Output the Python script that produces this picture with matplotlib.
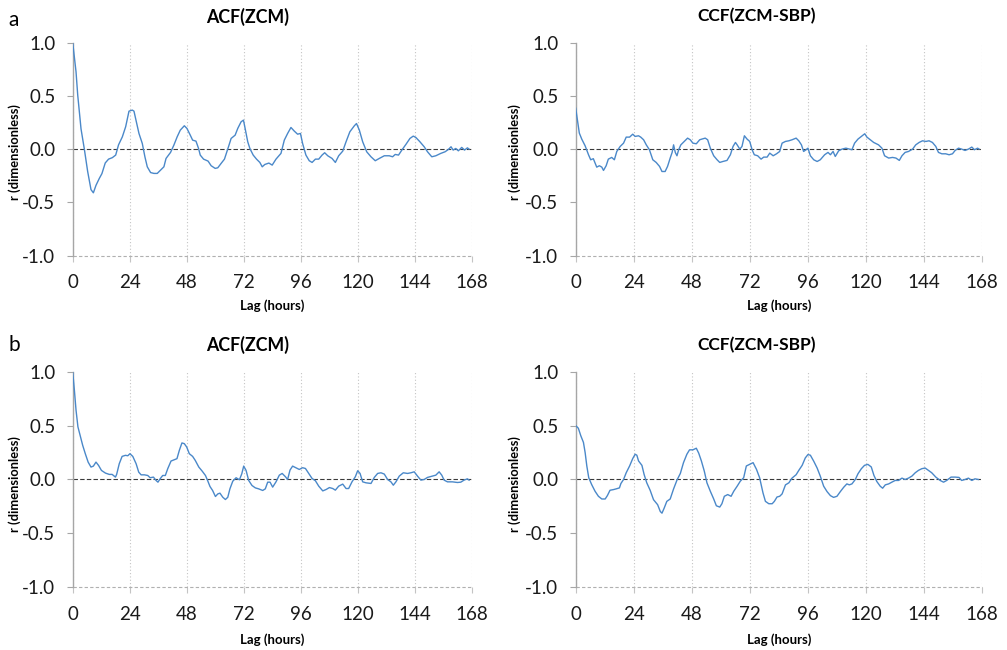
import numpy as np
import matplotlib
matplotlib.use('Agg')
import matplotlib.pyplot as plt

plt.rcParams['font.family'] = ['Lato', 'DejaVu Sans']

# values (lag in hours, r)
acf_a_lag = [0, 1.4, 2.1, 3.5, 4.9, 6.3, 7.7, 8.7, 9.8, 11.2, 12.3, 13.7, 15.1, 16.7, 18.1, 19.3, 20.9,
             22.3, 23.7, 25.1, 25.8, 26.8, 27.9, 29.3, 30.4, 31.4, 32.8, 34.2, 35.6, 37.0, 38.4, 39.3,
             41.2, 42.6, 44.0, 45.3, 47.0, 48.1, 49.5, 50.5, 51.9, 53.0, 53.7, 55.1, 57.0, 58.3, 60.0,
             61.1, 62.5, 63.9, 65.6, 66.7, 68.4, 69.5, 70.9, 71.9, 72.6, 73.7, 74.6, 76.0, 77.4, 78.8,
             79.8, 80.9, 82.6, 84.0, 85.6, 87.7, 89.1, 90.5, 91.9, 93.3, 94.7, 95.9, 96.8, 98.2, 99.6,
             100.8, 102.2, 103.6, 105.0, 106.1, 107.4, 109.2, 110.6, 112.0, 113.7, 115.1, 116.7, 118.6,
             119.5, 120.7, 122.1, 123.8, 125.6, 127.4, 129.1, 131.2, 133.3, 134.7, 135.8, 137.2, 138.6,
             140.3, 142.0, 143.4, 144.5, 146.2, 148.0, 149.4, 151.2, 152.9, 155.0, 156.8, 158.2, 159.3,
             160.2, 161.3, 162.4, 163.8, 165.0, 166.2, 166.9]
acf_a_r = [1.0, 0.725, 0.51, 0.19, 0.0, -0.21, -0.38, -0.41, -0.34, -0.275, -0.23, -0.13, -0.094, -0.08,
           -0.056, 0.04, 0.115, 0.21, 0.356, 0.366, 0.356, 0.256, 0.147, 0.053, -0.072, -0.166, -0.22,
           -0.228, -0.228, -0.197, -0.166, -0.0875, -0.031, 0.0375, 0.116, 0.178, 0.219, 0.194, 0.131,
           0.084, 0.075, 0.006, -0.056, -0.094, -0.1125, -0.156, -0.181, -0.175, -0.134, -0.094, 0.022,
           0.1, 0.131, 0.194, 0.256, 0.272, 0.194, 0.069, 0.006, -0.056, -0.094, -0.125, -0.166, -0.144,
           -0.131, -0.15, -0.094, -0.04, 0.084, 0.147, 0.203, 0.169, 0.14, 0.147, 0.053, -0.056, -0.109,
           -0.125, -0.094, -0.094, -0.056, -0.034, -0.0625, -0.0875, -0.125, -0.0625, -0.019, 0.069,
           0.1625, 0.219, 0.24, 0.178, 0.069, -0.025, -0.072, -0.109, -0.0875, -0.0625, -0.0625, -0.072,
           -0.05, -0.056, -0.009, 0.044, 0.1, 0.122, 0.109, 0.069, 0.022, -0.025, -0.072, -0.0625, -0.04,
           -0.025, -0.003, 0.022, -0.009, 0.006, -0.016, 0.016, -0.009, 0.012, 0.0]

ccf_a_lag = [0, 0.7, 1.5, 2.5, 3.9, 5.3, 6.2, 7.3, 8.7, 9.8, 10.8, 11.5, 12.6, 13.5, 14.9, 16.0, 17.0,
             18.4, 19.8, 20.9, 22.3, 23.6, 24.6, 26.0, 26.9, 28.1, 29.2, 30.5, 31.9, 33.3, 34.7, 35.7,
             37.0, 38.0, 39.1, 39.9, 40.5, 41.2, 41.9, 42.6, 43.5, 44.9, 46.3, 47.4, 48.5, 49.9, 51.3,
             52.2, 53.6, 54.6, 55.7, 57.1, 58.5, 59.6, 60.9, 62.6, 64.0, 65.1, 66.1, 66.8, 67.9, 68.8,
             69.8, 70.9, 72.0, 73.0, 73.9, 75.3, 76.7, 77.8, 79.2, 80.3, 81.7, 83.1, 84.4, 85.4, 86.8,
             88.2, 89.5, 91.2, 92.3, 93.4, 94.3, 95.3, 96.1, 97.1, 98.5, 99.9, 101.2, 103.0, 104.4,
             105.4, 106.5, 107.4, 108.8, 110.2, 111.8, 113.2, 114.3, 115.4, 116.8, 118.2, 119.6, 120.5,
             121.9, 123.3, 125.3, 126.7, 127.8, 129.5, 131.1, 132.5, 133.9, 135.0, 136.3, 137.7, 139.4,
             140.7, 142.1, 143.5, 144.9, 146.2, 147.6, 149.0, 150.1, 151.5, 153.1, 154.5, 155.9, 157.0,
             158.4, 159.7, 161.1, 162.5, 163.9, 165.0, 166.3, 166.9]
ccf_a_r = [0.384, 0.275, 0.15, 0.094, 0.031, -0.053, -0.1, -0.09, -0.169, -0.156, -0.169, -0.2, -0.156,
           -0.094, -0.078, -0.1, -0.022, 0.025, 0.056, 0.1125, 0.1125, 0.14, 0.119, 0.125, 0.1125, 0.0875,
           0.04, -0.006, -0.1, -0.125, -0.1625, -0.21, -0.21, -0.1625, -0.084, -0.031, 0.04, -0.031,
           -0.0625, -0.006, 0.04, 0.072, 0.103, 0.0875, 0.056, 0.05, 0.0875, 0.094, 0.103, 0.0875, 0.009,
           -0.0625, -0.1, -0.125, -0.116, -0.106, -0.053, 0.025, 0.0625, 0.04, 0.0, 0.025, 0.125, 0.094,
           0.072, -0.006, -0.053, -0.0625, -0.094, -0.075, -0.075, -0.0375, -0.0625, -0.044, -0.022,
           0.056, 0.072, 0.078, 0.0875, 0.103, 0.078, 0.04, -0.022, -0.006, 0.009, -0.0625, -0.1, -0.116,
           -0.1, -0.053, -0.031, -0.053, -0.022, -0.069, -0.016, 0.0, 0.009, 0.0, -0.006, 0.056, 0.094,
           0.119, 0.144, 0.1125, 0.0875, 0.0625, 0.04, 0.009, -0.0625, -0.084, -0.078, -0.084, -0.106,
           -0.0625, -0.031, -0.022, 0.0, 0.04, 0.0625, 0.078, 0.072, 0.078, 0.0625, 0.025, -0.031, -0.044,
           -0.044, -0.053, -0.044, -0.0125, 0.009, 0.0, -0.0125, 0.0, 0.019, -0.006, 0.009, 0.0]

acf_b_lag = [0, 0.7, 1.4, 2.2, 3.1, 4.2, 5.3, 6.5, 7.7, 8.7, 9.8, 10.9, 12.1, 13.8, 15.4, 16.6, 18.0,
             18.5, 19.6, 20.8, 22.2, 23.2, 24.1, 25.3, 26.7, 27.8, 28.8, 30.2, 31.6, 32.6, 34.0, 35.1,
             35.9, 36.8, 37.9, 39.0, 40.0, 41.4, 42.8, 43.9, 44.9, 46.0, 47.0, 48.0, 49.1, 50.5, 51.6,
             53.1, 54.5, 55.9, 56.8, 57.8, 58.9, 60.1, 61.1, 62.0, 63.2, 64.3, 65.3, 66.2, 67.4, 68.8,
             70.2, 71.2, 72.0, 73.0, 74.1, 75.5, 76.9, 78.3, 80.0, 81.1, 82.1, 83.1, 84.2, 85.6, 87.0,
             88.2, 89.6, 90.5, 91.5, 92.6, 94.0, 95.4, 96.8, 98.0, 99.4, 100.8, 102.2, 103.6, 105.3,
             106.7, 108.1, 109.5, 110.6, 112.0, 113.7, 115.1, 116.2, 117.6, 119.0, 120.0, 121.0, 122.1,
             123.5, 125.6, 127.0, 128.4, 129.8, 131.2, 132.6, 134.0, 135.0, 136.1, 137.5, 139.2, 141.0,
             142.4, 143.8, 145.2, 146.6, 148.0, 149.4, 151.5, 152.9, 154.3, 155.4, 156.4, 157.8, 159.9,
             162.0, 163.4, 164.8, 166.2, 166.9]
acf_b_r = [1.0, 0.83, 0.643, 0.488, 0.41, 0.317, 0.239, 0.161, 0.115, 0.124, 0.161, 0.13, 0.084, 0.059,
           0.047, 0.047, 0.022, 0.047, 0.146, 0.214, 0.224, 0.22, 0.239, 0.214, 0.146, 0.068, 0.043, 0.043,
           0.037, 0.016, 0.022, -0.009, -0.025, 0.006, 0.037, 0.037, 0.099, 0.171, 0.183, 0.193, 0.27,
           0.339, 0.332, 0.301, 0.239, 0.214, 0.177, 0.115, 0.078, 0.037, -0.009, -0.065, -0.102, -0.158,
           -0.134, -0.127, -0.165, -0.186, -0.165, -0.087, -0.016, 0.016, -0.003, 0.053, 0.124, 0.084,
           -0.009, -0.056, -0.078, -0.087, -0.102, -0.087, -0.025, -0.025, -0.071, -0.022, 0.04, 0.056,
           0.025, 0.0, 0.087, 0.124, 0.109, 0.093, 0.109, 0.102, 0.056, 0.009, -0.012, -0.062, -0.106,
           -0.093, -0.075, -0.084, -0.099, -0.062, -0.043, -0.084, -0.084, -0.022, 0.025, 0.081, 0.056,
           -0.022, -0.031, -0.037, 0.019, 0.056, 0.062, 0.05, 0.0, -0.022, -0.053, -0.022, 0.031, 0.062,
           0.056, 0.062, 0.071, 0.031, -0.006, 0.0, 0.019, 0.031, 0.04, 0.071, 0.04, -0.006, -0.022, -0.022,
           -0.028, -0.025, -0.006, 0.006, -0.006]

ccf_b_lag = [0, 1.1, 2.1, 3.2, 3.9, 4.6, 5.4, 6.6, 8.0, 9.4, 10.8, 12.2, 13.1, 14.2, 15.6, 16.7, 18.1,
             18.7, 19.8, 20.9, 22.3, 23.6, 24.6, 25.3, 26.0, 27.4, 28.3, 29.4, 30.8, 32.2, 33.9, 35.0,
             35.7, 36.6, 37.7, 39.1, 40.5, 41.9, 43.3, 44.6, 46.0, 47.1, 48.5, 49.9, 50.9, 52.0, 53.2,
             54.3, 55.7, 57.1, 58.2, 59.6, 60.5, 61.5, 62.9, 64.3, 65.4, 66.8, 68.1, 69.5, 70.6, 72.0,
             73.4, 74.8, 76.1, 77.5, 78.5, 79.9, 81.3, 82.2, 83.3, 84.4, 85.4, 86.8, 88.2, 89.5, 91.2,
             92.3, 93.7, 95.0, 96.1, 97.1, 98.5, 99.9, 101.2, 102.6, 104.0, 105.4, 106.7, 108.1, 109.5,
             110.9, 112.2, 113.2, 114.3, 115.7, 116.8, 118.2, 119.5, 120.9, 122.3, 123.4, 124.6, 126.0,
             127.0, 128.1, 129.5, 130.8, 132.2, 133.6, 135.0, 136.3, 137.7, 139.1, 140.5, 141.8, 143.2,
             144.6, 146.0, 147.3, 149.0, 150.8, 152.2, 153.5, 155.3, 157.0, 158.6, 159.7, 161.1, 162.5,
             163.9, 165.2, 166.6]
ccf_b_r = [0.5, 0.475, 0.406, 0.344, 0.25, 0.125, 0.016, -0.047, -0.109, -0.156, -0.181, -0.181, -0.15,
           -0.1, -0.094, -0.0875, -0.078, -0.0375, 0.0, 0.0625, 0.125, 0.194, 0.234, 0.225, 0.172, 0.131,
           0.047, -0.031, -0.1, -0.1875, -0.234, -0.297, -0.3125, -0.266, -0.203, -0.181, -0.0875, -0.006,
           0.056, 0.156, 0.234, 0.275, 0.275, 0.29, 0.244, 0.172, 0.078, -0.031, -0.109, -0.181, -0.244,
           -0.256, -0.225, -0.156, -0.14, -0.156, -0.109, -0.0625, -0.016, 0.016, 0.125, 0.14, 0.156,
           0.094, 0.016, -0.125, -0.203, -0.225, -0.225, -0.203, -0.1625, -0.156, -0.134, -0.05, -0.031,
           0.0125, 0.044, 0.084, 0.131, 0.2, 0.231, 0.225, 0.169, 0.106, 0.031, -0.0625, -0.1125, -0.15,
           -0.166, -0.156, -0.1125, -0.072, -0.041, -0.05, -0.041, 0.0, 0.053, 0.1, 0.131, 0.14, 0.116,
           0.0375, -0.019, -0.0625, -0.081, -0.05, -0.041, -0.025, -0.009, -0.009, 0.0125, 0.0, 0.0125,
           0.031, 0.0625, 0.084, 0.1, 0.106, 0.084, 0.0625, 0.022, -0.009, -0.025, -0.009, 0.022, 0.022,
           0.019, -0.009, 0.0, 0.0125, -0.009, 0.006, 0.0]

titles = ['ACF(ZCM)', 'CCF(ZCM-SBP)']
x_ticks = [0, 24, 48, 72, 96, 120, 144, 168]
y_ticks = [-1.0, -0.5, 0.0, 0.5, 1.0]

line_col = '#4a88c9'
axis_col = '#a6a6a6'

fig = plt.figure(figsize=(10.07, 6.5), dpi=100)

panels = [
    ([0.0722, 0.6066, 0.3962, 0.3280], acf_a_lag, acf_a_r),
    ([0.5717, 0.6066, 0.4032, 0.3280], ccf_a_lag, ccf_a_r),
    ([0.0722, 0.0965, 0.3962, 0.3317], acf_b_lag, acf_b_r),
    ([0.5717, 0.0965, 0.4032, 0.3317], ccf_b_lag, ccf_b_r),
]

for pos, lag, r in panels:
    ax = fig.add_axes(pos)
    ax.set_xlim(0, 168)
    ax.set_ylim(-1.0, 1.0)
    ax.set_xticks(x_ticks)
    ax.set_yticks(y_ticks)
    ax.set_yticklabels(['%.1f' % v for v in y_ticks])
    for s in ['top', 'right', 'bottom']:
        ax.spines[s].set_visible(False)
    ax.spines['left'].set_color(axis_col)
    ax.spines['left'].set_linewidth(1.0)
    ax.grid(axis='x', ls=(0, (1, 2)), color='#c4c4c4', lw=0.8)
    ax.axhline(-1.0, ls=(0, (3, 2)), color='#b0b0b0', lw=0.8, clip_on=False)
    ax.axhline(0.0, ls=(0, (4, 2)), color='#3a3a3a', lw=0.8, zorder=2)
    ax.tick_params(axis='y', length=4.5, color=axis_col, pad=8, labelsize=13.5, labelcolor='#1a1a1a')
    ax.tick_params(axis='x', length=4.5, color='#c4c4c4', pad=9, labelsize=13.5, labelcolor='#1a1a1a')
    ax.plot(lag, r, color=line_col, lw=1.0, zorder=3)
    ax.set_facecolor('none')

# panel titles, letters and axis labels
for ty in [0.9746, 0.469]:
    fig.text(0.246, ty, titles[0], ha='center', va='center', fontsize=12.8, fontweight='bold')
    fig.text(0.751, ty, titles[1], ha='center', va='center', fontsize=12.5, fontweight='bold')

fig.text(0.0085, 0.96, 'a', fontsize=15, va='baseline')
fig.text(0.0085, 0.46, 'b', fontsize=15, va='baseline')

for lx in [0.0149, 0.5114]:
    fig.text(lx, 0.766, 'r (dimensionless)', rotation=90, ha='center', va='center',
             fontsize=9.3, fontweight='bold')
    fig.text(lx, 0.256, 'r (dimensionless)', rotation=90, ha='center', va='center',
             fontsize=9.3, fontweight='bold')

for cx in [0.0722 + 0.3962 / 2, 0.5717 + 0.4032 / 2]:
    fig.text(cx, 0.529, 'Lag (hours)', ha='center', va='center', fontsize=9.5, fontweight='bold')
    fig.text(cx, 0.0154, 'Lag (hours)', ha='center', va='center', fontsize=9.5, fontweight='bold')

fig.savefig('out.png', dpi=100)
